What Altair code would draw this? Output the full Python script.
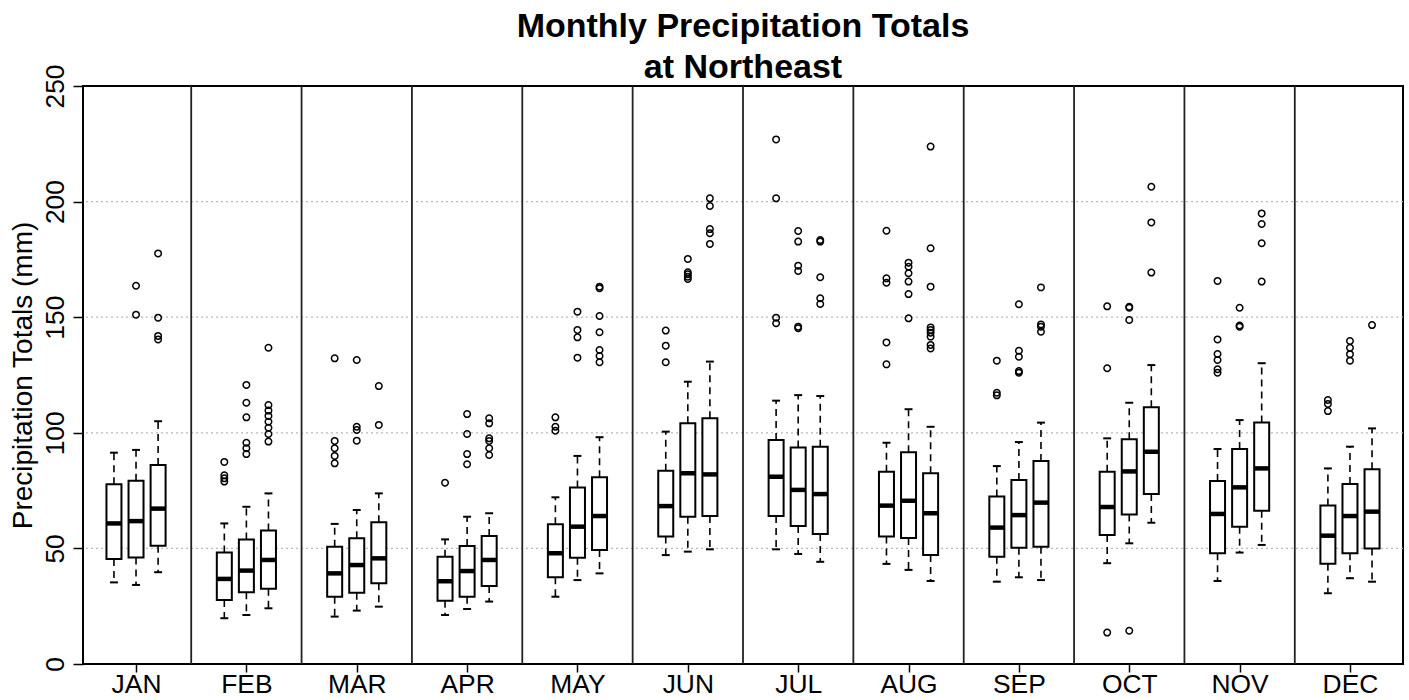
import altair as alt
import pandas as pd

FONT = "Liberation Sans"

months = ["JAN", "FEB", "MAR", "APR", "MAY", "JUN", "JUL", "AUG", "SEP", "OCT", "NOV", "DEC"]

# three boxes per month, in order
lower = [35.3, 34.2, 39.7,  19.8, 21.2, 24.1,  20.5, 23.1, 24.8,  21.2, 23.8, 27.0,
         29.1, 36.3, 39.2,  47.1, 48.6, 49.6,  49.6, 47.6, 44.2,  43.3, 40.7, 35.9,
         35.6, 37.5, 36.3,  43.6, 52.2, 61.1,  35.9, 48.2, 51.5,  30.6, 37.1, 35.6]
q1 = [45.4, 46.1, 51.2,  27.7, 31.0, 32.6,  29.1, 30.8, 34.9,  27.4, 29.1, 33.7,
      37.5, 46.0, 49.3,  55.1, 63.7, 64.0,  64.0, 59.7, 56.2,  55.1, 54.5, 47.1,
      46.4, 50.3, 50.7,  55.8, 64.7, 73.5,  47.9, 59.4, 66.3,  43.4, 47.9, 50.0]
median = [60.8, 61.8, 67.2,  36.8, 40.4, 45.0,  39.2, 42.8, 45.7,  35.8, 40.2, 45.0,
          47.9, 59.4, 64.0,  68.3, 82.5, 82.0,  81.0, 75.3, 73.5,  68.5, 70.6, 65.2,
          59.0, 64.4, 69.8,  67.9, 83.3, 91.8,  64.9, 76.4, 84.6,  55.5, 64.0, 65.9]
q3 = [77.7, 79.3, 86.1,  48.2, 53.9, 57.7,  50.7, 54.4, 61.3,  46.4, 51.0, 55.4,
      60.4, 76.3, 80.8,  83.6, 104.1, 106.3,  96.9, 93.6, 94.0,  83.2, 91.6, 82.5,
      72.4, 79.6, 87.8,  83.2, 97.2, 111.0,  79.2, 93.0, 104.5,  68.6, 77.9, 84.2]
upper = [91.4, 92.6, 105.0,  60.8, 68.0, 73.8,  60.6, 66.6, 73.8,  53.9, 63.7, 65.2,
         72.1, 90.0, 98.1,  100.5, 122.1, 130.8,  113.9, 116.3, 115.9,  95.7, 110.2, 102.6,
         85.6, 96.0, 104.4,  97.6, 113.0, 129.3,  93.0, 105.5, 130.1,  84.6, 94.0, 101.9]
outliers = [
    [], [163.6, 151.1], [177.6, 149.8, 141.9, 140.4],
    [87.4, 81.6, 80.3, 78.9], [120.7, 113.0, 106.7, 95.7, 93.3, 90.8],
    [136.8, 112.0, 109.6, 107.3, 104.8, 102.2, 99.5, 96.2],
    [132.2, 96.5, 93.3, 90.0, 86.8], [131.5, 102.6, 101.2, 96.6], [120.2, 103.4],
    [78.4], [108.1, 99.5, 90.8, 86.4], [106.3, 104.1, 97.6, 96.5, 93.3, 90.4],
    [106.7, 102.6, 100.9], [152.4, 144.5, 141.3, 132.5], [163.2, 162.5, 150.5, 143.5, 135.8, 133.2, 130.5],
    [144.2, 137.7, 130.5], [175.2, 169.4, 168.6, 167.5, 166.5], [201.4, 198.1, 188.1, 186.3, 181.7],
    [226.9, 201.4, 149.8, 147.4], [187.3, 182.7, 172.3, 170.0, 145.9, 145.2], [183.4, 182.7, 167.3, 158.2, 155.7],
    [187.4, 166.8, 164.9, 139.1, 129.6], [173.6, 171.8, 169.0, 165.4, 160.0, 149.5],
    [223.8, 179.8, 163.2, 145.6, 144.5, 143.3, 141.6, 138.0, 136.5],
    [131.2, 117.3, 116.2], [155.6, 135.5, 132.9, 126.7, 126.0], [162.9, 146.9, 145.9, 143.7],
    [154.7, 127.9, 13.6], [154.5, 154.1, 148.8, 14.4], [206.4, 191.0, 169.3],
    [165.7, 140.4, 134.1, 131.5, 127.5, 126.0], [154.1, 146.4, 145.9], [194.9, 190.3, 182.0, 165.4],
    [114.2, 112.5, 109.4], [139.7, 136.8, 134.0, 131.2], [146.6],
]
grid_values = [50, 100, 150, 200]

rows = []
out_rows = []
for i in range(36):
    m, k = divmod(i, 3)
    pos = 5 * (m + 1) - 3 + k
    rows.append(dict(pos=pos, lower=lower[i], q1=q1[i], median=median[i], q3=q3[i], upper=upper[i]))
    for v in outliers[i]:
        out_rows.append(dict(pos=pos, value=v))
box_df = pd.DataFrame(rows)
out_df = pd.DataFrame(out_rows)
sep_df = pd.DataFrame({"sep": [5 * m + 0.5 for m in range(1, 12)]})
grid_df = pd.DataFrame({"g": grid_values})

xscale = alt.Scale(domain=[0.824, 60.176], nice=False, zero=False)
yscale = alt.Scale(domain=[0, 250], nice=False, zero=True)

label_expr = "[" + ",".join(f"'{m}'" for m in months) + "][round((datum.value - 3) / 5)]"

x_axis = alt.Axis(values=[5 * m - 2 for m in range(1, 13)], labelExpr=label_expr, title=None,
                  grid=False, domain=False, ticks=True, tickSize=8, tickColor="black", tickWidth=1.5,
                  labelFont=FONT, labelFontSize=26.4, labelColor="black", labelPadding=-1,
                  labelBaseline="top", labelAlign="center", labelAngle=0, labelFlush=False,
                  labelOverlap=False)
y_axis = alt.Axis(values=[0, 50, 100, 150, 200, 250], title="Precipitation Totals (mm)",
                  grid=False, domain=False, ticks=True, tickSize=10, tickColor="black", tickWidth=1.5,
                  labelFont=FONT, labelFontSize=26.4, labelColor="black", labelPadding=10,
                  labelAngle=270, labelAlign="center", labelBaseline="alphabetic", labelFlush=False,
                  labelOverlap=False,
                  titleFont=FONT, titleFontSize=28, titleFontWeight="normal", titleColor="black",
                  titleAngle=270, titleAlign="center", titleBaseline="alphabetic",
                  titleX=-52, titleY=289)

base_box = alt.Chart(box_df)

grid = alt.Chart(grid_df).mark_rule(color="#b8b8b8", strokeWidth=1.3, strokeDash=[2, 3]).encode(
    y=alt.Y("g:Q", scale=yscale, axis=y_axis)
)

seps = alt.Chart(sep_df).mark_rule(color="#222222", strokeWidth=1.8).encode(
    x=alt.X("sep:Q", scale=xscale, axis=x_axis)
)

whisk_hi = base_box.mark_rule(color="black", strokeWidth=1.6, strokeDash=[7, 5]).encode(
    x=alt.X("pos:Q", scale=xscale), y=alt.Y("q3:Q", scale=yscale), y2="upper:Q"
)
whisk_lo = base_box.mark_rule(color="black", strokeWidth=1.6, strokeDash=[7, 5]).encode(
    x=alt.X("pos:Q", scale=xscale), y=alt.Y("q1:Q", scale=yscale), y2="lower:Q"
)

boxes = base_box.mark_bar(size=15, color="white", stroke="black", strokeWidth=2).encode(
    x=alt.X("pos:Q", scale=xscale), y=alt.Y("q1:Q", scale=yscale), y2="q3:Q"
)

medians = base_box.transform_calculate(
    a="datum.pos - 0.33", b="datum.pos + 0.33"
).mark_rule(color="black", strokeWidth=4.5).encode(
    x=alt.X("a:Q", scale=xscale), x2="b:Q", y=alt.Y("median:Q", scale=yscale)
)

caps_hi = base_box.transform_calculate(
    a="datum.pos - 0.18", b="datum.pos + 0.18"
).mark_rule(color="black", strokeWidth=2).encode(
    x=alt.X("a:Q", scale=xscale), x2="b:Q", y=alt.Y("upper:Q", scale=yscale)
)
caps_lo = base_box.transform_calculate(
    a="datum.pos - 0.18", b="datum.pos + 0.18"
).mark_rule(color="black", strokeWidth=2).encode(
    x=alt.X("a:Q", scale=xscale), x2="b:Q", y=alt.Y("lower:Q", scale=yscale)
)

points = alt.Chart(out_df).mark_point(shape="circle", filled=False, color="black",
                                      size=42, strokeWidth=1.5, opacity=1).encode(
    x=alt.X("pos:Q", scale=xscale), y=alt.Y("value:Q", scale=yscale)
)

chart = alt.layer(
    grid, seps, whisk_hi, whisk_lo, boxes, medians, caps_hi, caps_lo, points
).properties(
    width=1320, height=578,
    background="white",
    title=alt.TitleParams(
        text=["Monthly Precipitation Totals", "at Northeast"],
        font=FONT, fontSize=34, fontWeight="bold", color="black",
        anchor="middle", baseline="bottom", lineHeight=41, offset=1, dy=56,
    ),
    autosize=alt.AutoSizeParams(type="none"),
    padding={"left": 83, "top": 86, "right": 6, "bottom": 36},
).configure_view(
    stroke="black", strokeWidth=2
)

chart.save("out.html", embed_options={"renderer": "svg", "actions": False})
